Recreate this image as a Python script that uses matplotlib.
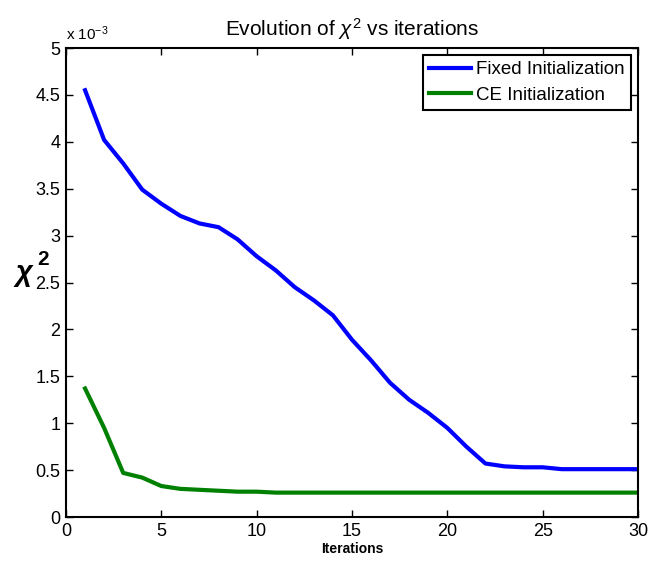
import matplotlib
import matplotlib.pyplot as plt

matplotlib.use("Agg")

plt.rcParams["font.family"] = ["Liberation Sans", "DejaVu Sans"]
plt.rcParams["mathtext.fontset"] = "custom"
plt.rcParams["mathtext.rm"] = "Liberation Sans"
plt.rcParams["mathtext.it"] = "Liberation Sans:italic"
plt.rcParams["mathtext.bf"] = "Liberation Sans:bold"

BLUE = "#0000FF"
GREEN = "#008000"

# chi^2 values, in units of 1e-3
iterations = list(range(1, 31))
fixed_init = [4.55, 4.02, 3.77, 3.49, 3.34, 3.21, 3.13, 3.09, 2.96, 2.78,
              2.63, 2.45, 2.31, 2.15, 1.89, 1.67, 1.43, 1.25, 1.11, 0.95,
              0.75, 0.57, 0.54, 0.53, 0.53, 0.51, 0.51, 0.51, 0.51, 0.51]
ce_init = [1.37, 0.95, 0.47, 0.42, 0.33, 0.30, 0.29, 0.28, 0.27, 0.27,
           0.26, 0.26, 0.26, 0.26, 0.26, 0.26, 0.26, 0.26, 0.26, 0.26,
           0.26, 0.26, 0.26, 0.26, 0.26, 0.26, 0.26, 0.26, 0.26, 0.26]
x_ticks = [0, 5, 10, 15, 20, 25, 30]
y_ticks = [0, 0.5, 1, 1.5, 2, 2.5, 3, 3.5, 4, 4.5, 5]

fig = plt.figure(figsize=(6.49, 5.63), dpi=100)
fig.patch.set_facecolor("white")
ax = fig.add_axes([0.1017, 0.0817, 0.8813, 0.833])

ax.plot(iterations, fixed_init, color=BLUE, lw=3, label="Fixed Initialization")
ax.plot(iterations, ce_init, color=GREEN, lw=3, label="CE Initialization")

ax.set_xlim(0, 30)
ax.set_ylim(0, 5)
ax.set_xticks(x_ticks)
ax.set_yticks(y_ticks)
ax.set_yticklabels([f"{v:g}" for v in y_ticks])
ax.tick_params(direction="in", length=5, width=1, top=True, right=True,
               labelsize=13, pad=4)
for s in ax.spines.values():
    s.set_linewidth(1.5)

ax.set_title(r"Evolution of $\chi^2$ vs iterations", fontsize=15, pad=9)
ax.set_xlabel("Iterations", fontsize=10, fontweight="bold", labelpad=2)

# y label: bold italic chi with a large superscript 2
ax.text(-0.074, 0.52, "χ", transform=ax.transAxes, fontsize=21,
        fontweight="bold", fontstyle="italic", ha="center", va="center")
ax.text(-0.04, 0.55, "2", transform=ax.transAxes, fontsize=15,
        fontweight="bold", ha="center", va="center")

ax.text(0.0, 1.01, r"x 10$^{-3}$", transform=ax.transAxes,
        fontsize=11, ha="left", va="bottom")

leg = ax.legend(loc="upper right", fontsize=13.5, fancybox=False,
                framealpha=1, edgecolor="black", handlelength=2.2,
                borderaxespad=0.35, labelspacing=0.45, handletextpad=0.3,
                borderpad=0.35)
leg.get_frame().set_linewidth(1.5)

fig.savefig("out.png", dpi=100, facecolor="white")
